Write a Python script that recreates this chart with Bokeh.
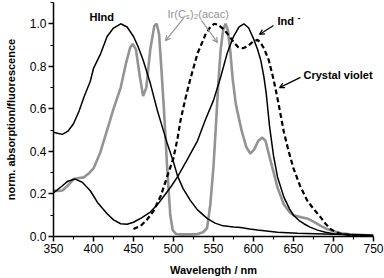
import numpy as np
from bokeh.plotting import figure
from bokeh.models import Range1d, FixedTicker, PrintfTickFormatter, Label, Arrow, OpenHead
from bokeh.embed import file_html
from bokeh.resources import INLINE

# ---- data ----
hind_x = [350, 355, 361, 368, 375, 382, 388, 396, 400, 409, 417, 425, 434, 442, 450, 456, 462, 471, 480, 484,
          492, 500, 505, 512, 521, 530, 542, 552, 562, 575, 584, 595, 605, 630, 655, 700, 750]
hind_y = [0.49, 0.485, 0.48, 0.495, 0.53, 0.59, 0.655, 0.73, 0.79, 0.86, 0.94, 0.98, 1.0, 0.985, 0.94, 0.89,
          0.83, 0.72, 0.59, 0.54, 0.44, 0.35, 0.285, 0.225, 0.17, 0.125, 0.085, 0.063, 0.05, 0.045, 0.042,
          0.035, 0.03, 0.02, 0.015, 0.01, 0.006]

ind_x = [350, 360, 368, 377, 386, 396, 405, 417, 425, 434, 442, 450, 460, 471, 480, 490, 497, 505, 517, 530,
         540, 550, 559, 567, 575, 582, 588, 594, 600, 605, 609, 613, 616, 620, 625, 630, 638, 645, 650, 657,
         663, 670, 680, 690, 700, 720, 750]
ind_y = [0.205, 0.235, 0.26, 0.27, 0.255, 0.215, 0.16, 0.107, 0.078, 0.06, 0.058, 0.067, 0.088, 0.115, 0.15,
         0.2, 0.235, 0.28, 0.36, 0.45, 0.55, 0.64, 0.75, 0.86, 0.94, 0.985, 1.0, 0.98, 0.93, 0.88, 0.83, 0.75,
         0.67, 0.52, 0.38, 0.28, 0.185, 0.13, 0.10, 0.075, 0.06, 0.045, 0.03, 0.02, 0.013, 0.008, 0.005]

ir_x = [350, 355, 361, 368, 375, 382, 388, 395, 400, 408, 417, 425, 434, 441, 446, 449, 453, 458, 462, 466,
        471, 476, 479, 482, 485, 488, 492, 496, 499, 503, 510, 520, 530, 537, 542, 546, 550, 553, 556, 559,
        562, 565, 568, 571, 574, 578, 585, 591, 596, 601, 606, 611, 615, 621, 626, 630, 638, 645, 650, 660,
        667, 675, 684, 692, 700, 710, 721, 750]
ir_y = [0.216, 0.214, 0.216, 0.24, 0.27, 0.275, 0.278, 0.30, 0.32, 0.39, 0.50, 0.60, 0.70, 0.82, 0.89, 0.905,
        0.88, 0.75, 0.66, 0.70, 0.88, 0.99, 1.0, 0.95, 0.78, 0.60, 0.33, 0.10, 0.03, 0.012, 0.01, 0.01, 0.012,
        0.02, 0.04, 0.15, 0.33, 0.52, 0.72, 0.88, 0.97, 1.0, 0.97, 0.87, 0.74, 0.62, 0.50, 0.42, 0.39, 0.41,
        0.45, 0.465, 0.45, 0.36, 0.29, 0.23, 0.15, 0.115, 0.10, 0.09, 0.085, 0.07, 0.05, 0.035, 0.025, 0.015,
        0.01, 0.005]

cv_x = [450, 459, 467, 475, 484, 492, 500, 505, 509, 515, 521, 530, 540, 546, 551, 556, 561, 566, 571, 576,
        581, 587, 593, 599, 605, 609, 613, 619, 625, 631, 638, 644, 650, 658, 667, 675, 684, 690, 696, 703,
        709, 720, 735]
cv_y = [0.035, 0.05, 0.08, 0.12, 0.19, 0.28, 0.37, 0.46, 0.55, 0.65, 0.74, 0.86, 0.95, 0.985, 1.0, 0.995,
        0.98, 0.96, 0.935, 0.91, 0.89, 0.885, 0.895, 0.915, 0.925, 0.91, 0.885, 0.83, 0.74, 0.63, 0.49, 0.40,
        0.32, 0.24, 0.17, 0.13, 0.09, 0.06, 0.036, 0.02, 0.013, 0.008, 0.005]

x_ticks = [350, 400, 450, 500, 550, 600, 650, 700, 750]
x_minor = [375, 425, 475, 525, 575, 625, 675, 725]
y_ticks = [0.0, 0.2, 0.4, 0.6, 0.8, 1.0]
y_minor = [0.1, 0.3, 0.5, 0.7, 0.9, 1.1]

GRAY = "#939393"
FONT = "Liberation Sans"

p = figure(width=384, height=278, output_backend="svg", toolbar_location=None,
           x_range=Range1d(350, 750), y_range=Range1d(0, 1.1),
           min_border_left=53, min_border_right=11, min_border_top=2, min_border_bottom=42)
p.outline_line_color = None
p.xgrid.visible = False
p.ygrid.visible = False
p.background_fill_color = "white"
p.border_fill_color = "white"

p.line(ir_x, ir_y, line_color=GRAY, line_width=2.6)
p.line(hind_x, hind_y, line_color="black", line_width=1.5)
p.line(ind_x, ind_y, line_color="black", line_width=1.5)
p.line(cv_x, cv_y, line_color="black", line_width=2.2, line_dash="5 3")

for ax, ticks, minor in ((p.xaxis[0], x_ticks, x_minor), (p.yaxis[0], y_ticks, y_minor)):
    ax.ticker = FixedTicker(ticks=ticks, minor_ticks=minor)
    ax.axis_line_width = 1.5
    ax.major_tick_line_width = 1.5
    ax.minor_tick_line_width = 1.2
    ax.major_tick_out = 5
    ax.major_tick_in = 0
    ax.minor_tick_out = 3
    ax.minor_tick_in = 0
    ax.major_label_text_font = FONT
    ax.major_label_text_font_size = "12px"
    ax.major_label_text_color = "black"
    ax.major_label_standoff = 2
    ax.axis_label_text_font = FONT
    ax.axis_label_text_font_size = "11px"
    ax.axis_label_text_font_style = "bold"
    ax.axis_label_text_color = "black"

p.yaxis[0].formatter = PrintfTickFormatter(format="%.1f")
p.xaxis[0].axis_label = "Wavelength / nm"
p.yaxis[0].axis_label = "norm. absorption/fluorescence"
p.xaxis[0].axis_label_standoff = 8
p.yaxis[0].axis_label_standoff = 10


def lab(x, y, t, size="11px", style="bold", color="black", dx=0, dy=0):
    p.add_layout(Label(x=x, y=y, text=t, text_font=FONT, text_font_size=size, text_font_style=style,
                       text_color=color, text_baseline="alphabetic", x_offset=dx, y_offset=dy))


lab(395, 1.03, "HInd")
lab(630, 1.015, "Ind")
lab(655, 1.026, "-", size="9px")
lab(662.5, 0.757, "Crystal violet")

# Ir(Cs)2(acac) label in pieces
ix, iy = 492.5, 1.048
lab(ix, iy, "Ir(C", style="normal", color=GRAY)
lab(ix, iy, "s", size="8px", style="normal", color=GRAY, dx=18.3, dy=-3)
lab(ix, iy, ")", style="normal", color=GRAY, dx=22.5)
lab(ix, iy, "2", size="8px", style="normal", color=GRAY, dx=26.2, dy=-3)
lab(ix, iy, "(acac)", style="normal", color=GRAY, dx=30.8)

def arrow(x0, y0, x1, y1, color):
    p.add_layout(Arrow(x_start=x0, y_start=y0, x_end=x1, y_end=y1, line_color=color, line_width=1.2,
                       end=OpenHead(size=5, line_color=color, line_width=1.2)))

arrow(512.5, 1.025, 490, 0.921, GRAY)
arrow(535, 1.016, 555, 0.912, GRAY)
arrow(625, 0.992, 607.5, 0.95, "black")
arrow(658.75, 0.748, 632.5, 0.70, "black")

open("out.html", "w").write(file_html(p, INLINE))
